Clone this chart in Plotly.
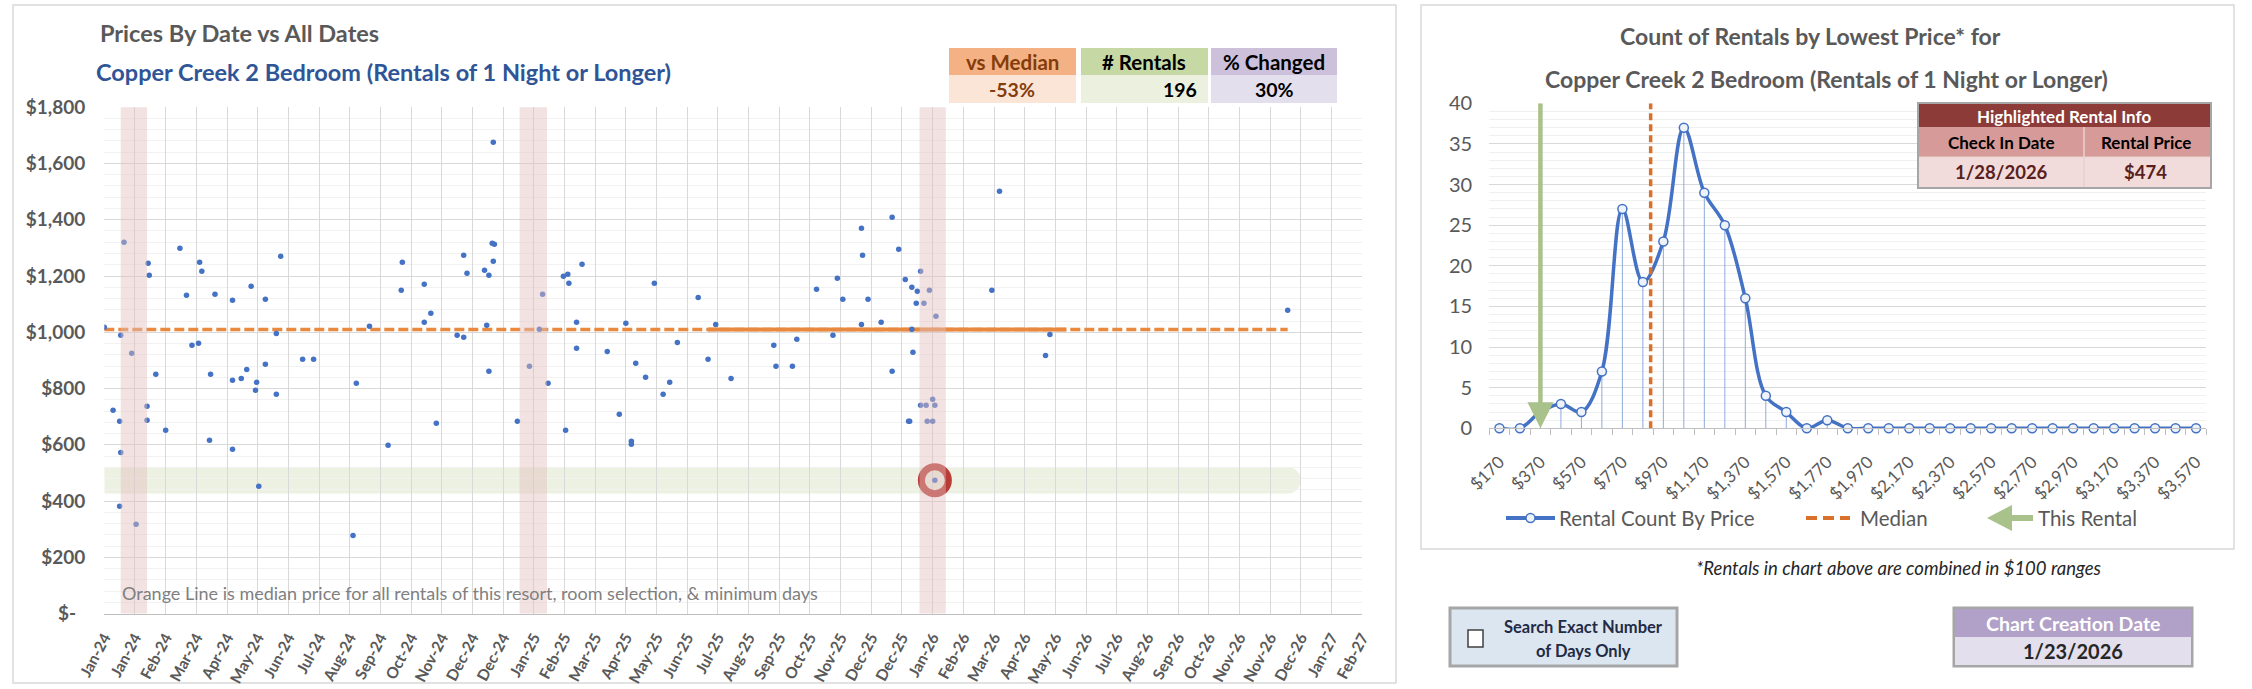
import plotly.graph_objects as go
from datetime import datetime

# ---------------- data ----------------
resort_title = "Copper Creek 2 Bedroom (Rentals of 1 Night or Longer)"

rental_dates = [
    "2024-01-01", "2024-01-19", "2024-01-16", "2024-01-26", "2024-01-09", "2024-01-15", "2024-01-16",
    "2024-01-15", "2024-01-30", "2024-02-10", "2024-02-11", "2024-02-09", "2024-02-09", "2024-02-17",
    "2024-02-26", "2024-03-10", "2024-03-16", "2024-03-28", "2024-03-30", "2024-03-21", "2024-03-27",
    "2024-04-07", "2024-04-06", "2024-04-11", "2024-04-27", "2024-04-27", "2024-04-27", "2024-05-05",
    "2024-05-10", "2024-05-14", "2024-05-18", "2024-05-19", "2024-05-21", "2024-05-27", "2024-05-27",
    "2024-06-06", "2024-06-06", "2024-06-10", "2024-06-30", "2024-07-10", "2024-08-18", "2024-08-15",
    "2024-08-30", "2024-09-16", "2024-09-29", "2024-09-28",
    "2024-10-19", "2024-10-19", "2024-10-25", "2024-10-30", "2024-11-18", "2024-11-24", "2024-11-24",
    "2024-11-27", "2024-12-13", "2024-12-17", "2024-12-15", "2024-12-17", "2024-12-20", "2024-12-22",
    "2024-12-21", "2024-12-21", "2025-01-12", "2025-01-23", "2025-02-01", "2025-02-04", "2025-02-09",
    "2025-02-23", "2025-02-27", "2025-02-28", "2025-02-25", "2025-03-07", "2025-03-07", "2025-03-12",
    "2025-04-04", "2025-04-15", "2025-04-21", "2025-04-26", "2025-04-26", "2025-04-30", "2025-05-09",
    "2025-05-17", "2025-05-25", "2025-05-31", "2025-06-07", "2025-06-26", "2025-07-05", "2025-07-12",
    "2025-07-26",
    "2025-09-03", "2025-09-05", "2025-09-20", "2025-09-24", "2025-10-12", "2025-10-27", "2025-10-31",
    "2025-11-05", "2025-11-22", "2025-11-23", "2025-11-22", "2025-11-28", "2025-12-10", "2025-12-20",
    "2025-12-20", "2025-12-26", "2026-01-01", "2026-01-07", "2026-01-12", "2026-01-11", "2026-01-15",
    "2026-01-07", "2026-01-08", "2026-01-04", "2026-01-05", "2026-01-15", "2026-01-20", "2026-01-26",
    "2026-01-28", "2026-01-21", "2026-01-26", "2026-01-23", "2026-01-18", "2026-01-29", "2026-01-28",
    "2026-03-21", "2026-03-28", "2026-05-13", "2026-05-09", "2026-12-16",
]
rental_prices = [
    1018, 1320, 989, 925, 723, 684, 573,
    382, 318, 1245, 1203, 737, 687, 851,
    652, 1299, 1132, 1249, 1217, 954, 961,
    851, 616, 1135, 1114, 829, 584, 836,
    868, 1164, 794, 822, 453, 1117, 886,
    996, 780, 1270, 904, 904, 819, 278,
    1021, 598, 1249, 1149,
    1171, 1036, 1068, 677, 989, 982, 1274,
    1210, 1220, 1203, 1025, 861, 1316, 1313,
    1252, 1675, 684, 879, 1011, 1135, 819,
    1199, 1206, 1174, 652, 1036, 943, 1242,
    932, 709, 1032, 613, 602, 890, 840,
    1174, 780, 822, 964, 1124, 904, 1028,
    836,
    954, 879, 879, 975, 1153, 989, 1192,
    1117, 1370, 1274, 1028, 1117, 1036, 1409,
    861, 1295, 1188, 1160, 1146, 1103, 1217,
    1011, 929, 684, 684, 741, 741, 762,
    741, 684, 684, 1149, 1103, 1057, 474,
    1149, 1501, 992, 917, 1078,
]

median_price = 1010
median_dates = ["2024-01-01", "2026-12-16"]
current_median_dates = ["2025-07-05", "2026-05-28"]

highlight_date = "2026-01-28"
highlight_price = 474
highlight_band_halfwidth = 47
same_season_bands = [("2024-01-16", "2024-02-09"), ("2025-01-14", "2025-02-08"), ("2026-01-14", "2026-02-07")]

vs_median_pct = -53
n_rentals = 196
pct_changed = 30
chart_creation_date = "1/23/2026"

price_buckets = [170, 270, 370, 470, 570, 670, 770, 870, 970, 1070, 1170, 1270, 1370, 1470, 1570,
                 1670, 1770, 1870, 1970, 2070, 2170, 2270, 2370, 2470, 2570, 2670, 2770, 2870,
                 2970, 3070, 3170, 3270, 3370, 3470, 3570]
bucket_counts = [0, 0, 2, 3, 2, 7, 27, 18, 23, 37, 29, 25, 16, 4, 2,
                 0, 1, 0, 0, 0, 0, 0, 0, 0, 0, 0, 0, 0,
                 0, 0, 0, 0, 0, 0, 0]
median_bucket_pos = 908
this_rental_bucket = 370

# ---------------- layout helpers ----------------
W, H = 2252, 689
FONT = "Lato"
GREY = "#595959"
ORANGE = "#E8893F"
BLUE = "#4472C4"
GREEN = "#A9C18A"


def px(x):
    return x / W


def py(y):
    return 1 - y / H


fig = go.Figure()

# ---------- left chart ----------
fig.add_trace(go.Scatter(x=median_dates, y=[median_price, median_price], mode="lines",
                         line=dict(color=ORANGE, width=3.5, dash="10px,4px"),
                         xaxis="x", yaxis="y", hoverinfo="skip"))
fig.add_trace(go.Scatter(x=current_median_dates, y=[median_price, median_price], mode="lines",
                         line=dict(color=ORANGE, width=4),
                         xaxis="x", yaxis="y", hoverinfo="skip"))
fig.add_trace(go.Scatter(x=rental_dates, y=rental_prices, mode="markers",
                         marker=dict(color=BLUE, size=5.5),
                         xaxis="x", yaxis="y"))
fig.add_trace(go.Scatter(x=[highlight_date], y=[highlight_price], mode="markers",
                         marker=dict(symbol="circle-open", size=27, color="#B93C37", line=dict(width=7)),
                         xaxis="x", yaxis="y"))

# ---------- right chart ----------
fig.add_trace(go.Scatter(x=price_buckets, y=bucket_counts, mode="lines+markers",
                         line=dict(color=BLUE, width=3.5, shape="spline", smoothing=1.0),
                         marker=dict(symbol="circle", size=9, color="#EEF2F9", line=dict(color=BLUE, width=1.5)),
                         error_y=dict(type="data", symmetric=False, array=[0] * len(bucket_counts),
                                      arrayminus=bucket_counts, width=0, thickness=1, color="#8FAADC"),
                         cliponaxis=False, xaxis="x2", yaxis="y2"))
fig.add_trace(go.Scatter(x=[median_bucket_pos, median_bucket_pos], y=[0, 40], mode="lines",
                         line=dict(color="#D9712B", width=3.5, dash="7px,4px"),
                         xaxis="x2", yaxis="y2", hoverinfo="skip"))
fig.add_trace(go.Scatter(x=[this_rental_bucket, this_rental_bucket], y=[40, 3.0], mode="lines",
                         line=dict(color=GREEN, width=4.5),
                         xaxis="x2", yaxis="y2", hoverinfo="skip"))
fig.add_trace(go.Scatter(x=[this_rental_bucket], y=[0], mode="markers",
                         marker=dict(symbol="arrow-down", size=26, color=GREEN, line=dict(width=0)),
                         cliponaxis=False, xaxis="x2", yaxis="y2", hoverinfo="skip"))

shapes = []
# panel borders
shapes.append(dict(type="rect", xref="paper", yref="paper", x0=px(13), x1=px(1396), y0=py(683), y1=py(5),
                   line=dict(color="#D9D9D9", width=1.5), layer="below"))
shapes.append(dict(type="rect", xref="paper", yref="paper", x0=px(1421), x1=px(2234), y0=py(549), y1=py(5),
                   line=dict(color="#D9D9D9", width=1.5), layer="below"))

# green price band with rounded end
band_lo = highlight_price - highlight_band_halfwidth
band_hi = highlight_price + highlight_band_halfwidth
shapes.append(dict(type="rect", xref="x", yref="y", x0=median_dates[0], x1=median_dates[1],
                   y0=band_lo, y1=band_hi, fillcolor="#ECF1E1", line=dict(width=0), layer="below"))
shapes.append(dict(type="circle", xref="x", yref="y", x0="2026-12-04", x1="2026-12-28",
                   y0=band_lo, y1=band_hi, fillcolor="#ECF1E1", line=dict(width=0), layer="below"))
# same-season pink bands
for a, b in same_season_bands:
    shapes.append(dict(type="rect", xref="x", yref="y domain", x0=a, x1=b, y0=0, y1=1,
                       fillcolor="rgba(227,190,190,0.45)", line=dict(width=0), layer="above"))

annotations = []


def txt(text, x, y, size, color, xanchor="center", bold=False, italic=False):
    if bold:
        text = "<b>" + text + "</b>"
    if italic:
        text = "<i>" + text + "</i>"
    annotations.append(dict(text=text, x=px(x), y=py(y), xref="paper", yref="paper", xanchor=xanchor,
                            yanchor="middle", showarrow=False, font=dict(family=FONT, size=size, color=color)))


def box(x0, x1, y0, y1, fill, line_color=None, lw=0):
    ln = dict(width=lw, color=line_color if line_color else fill)
    shapes.append(dict(type="rect", xref="paper", yref="paper", x0=px(x0), x1=px(x1), y0=py(y1), y1=py(y0),
                       fillcolor=fill, line=ln, layer="above"))


# left titles
txt("Prices By Date vs All Dates", 98, 33, 23.5, GREY, xanchor="left", bold=True)
txt(resort_title, 94, 72, 23.5, "#2F5597", xanchor="left", bold=True)
txt("Orange Line is median price for all rentals of this resort, room selection, & minimum days",
    120, 593, 18, "#7F7F7F", xanchor="left")

# left stat table
box(949, 1076, 48, 75, "#F4B183")
box(949, 1076, 75, 103, "#FBE5D6")
box(1081, 1208, 48, 75, "#C6D9A5")
box(1081, 1208, 75, 103, "#EBF1DE")
box(1211, 1337, 48, 75, "#CCC0DA")
box(1211, 1337, 75, 103, "#E4DFEC")
txt("vs Median", 1012, 62, 20.5, "#843C0C", bold=True)
txt("# Rentals", 1144, 62, 20.5, "#000000", bold=True)
txt("% Changed", 1274, 62, 20.5, "#000000", bold=True)
txt(f"{vs_median_pct}%", 1012, 89, 19.5, "#843C0C", bold=True)
txt(f"{n_rentals}", 1199, 89, 19.5, "#000000", xanchor="right", bold=True)
txt(f"{pct_changed}%", 1274, 89, 19.5, "#000000", bold=True)

# right titles
txt("Count of Rentals by Lowest Price* for", 1810, 36, 23, GREY, bold=True)
txt(resort_title, 1826, 79, 23, GREY, bold=True)

# highlighted rental info table
hd = datetime.strptime(highlight_date, "%Y-%m-%d")
box(1918, 2211, 103, 188, "#FFFFFF", "#A6A6A6", 2)
box(1919, 2210, 104, 127, "#8C3B39")
box(1919, 2210, 127, 157, "#D69B99")
box(1919, 2210, 157, 187, "#F2DCDB")
shapes.append(dict(type="line", xref="paper", yref="paper", x0=px(2084), x1=px(2084), y0=py(187), y1=py(127),
                   line=dict(color="#E9D2D1", width=1.5), layer="above"))
shapes.append(dict(type="line", xref="paper", yref="paper", x0=px(1919), x1=px(2210), y0=py(157), y1=py(157),
                   line=dict(color="#E9D2D1", width=1), layer="above"))
txt("Highlighted Rental Info", 2064, 116, 17, "#FFFFFF", bold=True)
txt("Check In Date", 2001, 142, 17, "#000000", bold=True)
txt("Rental Price", 2146, 142, 17, "#000000", bold=True)
txt(f"{hd.month}/{hd.day}/{hd.year}", 2001, 172, 18.5, "#5A1E1E", bold=True)
txt(f"${highlight_price}", 2145, 172, 18.5, "#5A1E1E", bold=True)

# legend (manual)
LY = 518
shapes.append(dict(type="line", xref="paper", yref="paper", x0=px(1506), x1=px(1555), y0=py(LY), y1=py(LY),
                   line=dict(color=BLUE, width=4), layer="above"))
shapes.append(dict(type="circle", xref="paper", yref="paper", x0=px(1526), x1=px(1535), y0=py(LY + 4.5),
                   y1=py(LY - 4.5), fillcolor="#EEF2F9", line=dict(color=BLUE, width=1.5), layer="above"))
txt("Rental Count By Price", 1557, LY, 20.5, GREY, xanchor="left")
shapes.append(dict(type="line", xref="paper", yref="paper", x0=px(1806), x1=px(1850), y0=py(LY), y1=py(LY),
                   line=dict(color="#D9712B", width=4, dash="11px,6px"), layer="above"))
txt("Median", 1858, LY, 20.5, GREY, xanchor="left")
shapes.append(dict(type="path", xref="paper", yref="paper",
                   path=f"M{px(1987)},{py(LY)} L{px(2012)},{py(LY - 13)} L{px(2012)},{py(LY - 3)} "
                        f"L{px(2033)},{py(LY - 3)} L{px(2033)},{py(LY + 3)} L{px(2012)},{py(LY + 3)} "
                        f"L{px(2012)},{py(LY + 13)} Z",
                   fillcolor=GREEN, line=dict(width=0), layer="above"))
txt("This Rental", 2036, LY, 20.5, GREY, xanchor="left")

txt("*Rentals in chart above are combined in $100 ranges", 1898, 568, 18.5, "#262626", italic=True)

# checkbox control
box(1450, 1677, 608, 666, "#DCE6F1", "#A6A6A6", 3)
box(1468, 1483, 630, 647, "#FFFFFF", "#404040", 1.5)
txt("Search Exact Number", 1583, 627, 16.5, "#222B45", bold=True)
txt("of Days Only", 1583, 651, 16.5, "#222B45", bold=True)

# chart creation date
box(1954, 2192, 608, 666, "#FFFFFF", "#A6A6A6", 3)
box(1955, 2191, 609, 637, "#B1A0C7")
box(1955, 2191, 637, 665, "#E4DFEC")
txt("Chart Creation Date", 2073, 623, 19.5, "#FFFFFF", bold=True)
txt(chart_creation_date, 2073, 651, 20, "#262626", bold=True)

y_ticks = [0, 200, 400, 600, 800, 1000, 1200, 1400, 1600, 1800]
y_text = ["$-\u00a0\u00a0"] + [f"${v:,}" for v in y_ticks[1:]]

fig.update_layout(
    template="none",
    width=W, height=H, autosize=False,
    margin=dict(l=0, r=0, t=0, b=0, pad=0),
    paper_bgcolor="white", plot_bgcolor="white",
    showlegend=False,
    font=dict(family=FONT, color=GREY),
    shapes=shapes, annotations=annotations,
    xaxis=dict(domain=[px(104.3), px(1362.2)], type="date", range=["2024-01-01", "2027-02-22"],
               tick0="2024-01-01", dtick=28 * 86400000, tickformat="%b-%y", tickangle=-62,
               tickfont=dict(family=FONT, size=15.5, color=GREY, weight="bold"),
               showgrid=True, gridcolor="#D9D9D9", gridwidth=1, showline=True, linecolor="#BFBFBF",
               ticks="", zeroline=False, anchor="y", automargin=False, ticklabelstandoff=8,
               fixedrange=True),
    yaxis=dict(domain=[py(613.6), py(107.2)], range=[0, 1800], tickmode="array", tickvals=y_ticks,
               ticktext=y_text, tickfont=dict(family=FONT, size=19, color=GREY, weight="bold"),
               showgrid=True, gridcolor="#D9D9D9", zeroline=False, ticks="", ticklabelstandoff=18,
               minor=dict(dtick=40, tick0=0, showgrid=True, gridcolor="#F2F2F2"),
               anchor="x", automargin=False, fixedrange=True),
    xaxis2=dict(domain=[px(1489.2), px(2206.3)], range=[120, 3620], tick0=170, dtick=200,
                tickprefix="$", tickformat=",d", tickangle=-45,
                tickfont=dict(family=FONT, size=17, color=GREY),
                showgrid=False, showline=True, linecolor="#BFBFBF", zeroline=False, ticks="",
                ticklabelstandoff=16,
                minor=dict(ticks="outside", ticklen=6, tick0=120, dtick=100, tickcolor="#BFBFBF", showgrid=False),
                anchor="y2", automargin=False, fixedrange=True),
    yaxis2=dict(domain=[py(428.3), py(103.3)], range=[0, 40], dtick=5, tick0=0,
                tickfont=dict(family=FONT, size=20, color=GREY),
                showgrid=True, gridcolor="#D9D9D9", zeroline=False, ticks="", ticklabelstandoff=16,
                minor=dict(dtick=1, tick0=0, showgrid=True, gridcolor="#F0F0F0"),
                anchor="x2", automargin=False, fixedrange=True),
)

fig.write_html("out.html", config={"displayModeBar": False},
               post_script="document.body.style.margin='0';document.body.style.overflow='hidden';")
